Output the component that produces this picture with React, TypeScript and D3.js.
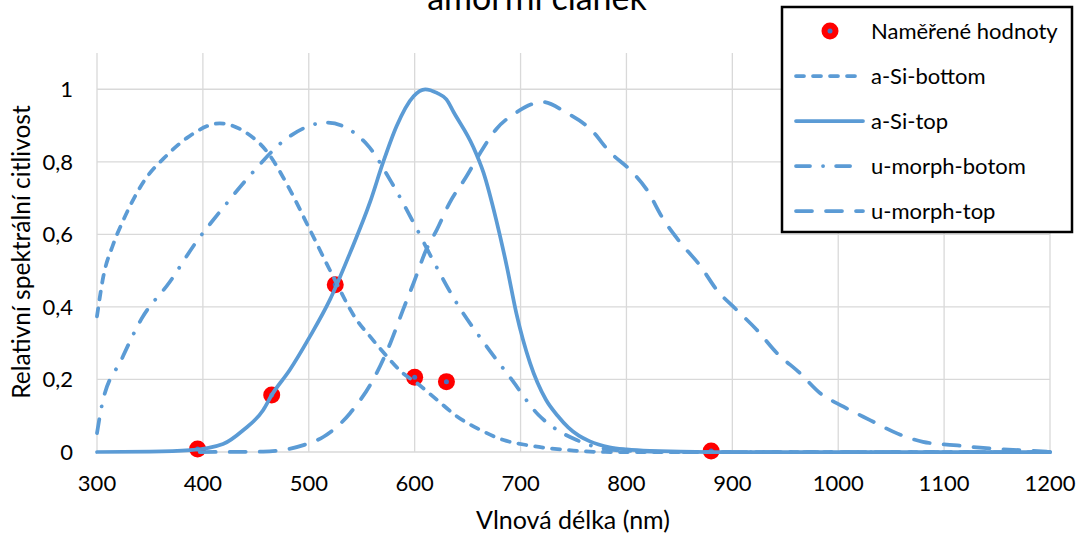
import React from "react";
import * as d3 from "d3";

type Pt = [number, number];

const measured: Pt[] = [[395, 0.008], [465, 0.157], [525, 0.461], [600, 0.206], [630, 0.194], [880, 0.003]];

const aSiBottom: Pt[] = [
  [300, 0.374], [306, 0.484], [315, 0.57], [325, 0.64], [344, 0.745], [366, 0.818], [385, 0.866], [416, 0.906],
  [441, 0.88], [460, 0.83], [482, 0.724], [501, 0.613], [523, 0.484], [545, 0.365], [558, 0.318],
  [571, 0.273], [589, 0.217], [602, 0.19], [621, 0.144], [640, 0.098], [662, 0.061], [684, 0.033],
  [706, 0.019], [728, 0.01], [750, 0.004], [780, 0], [900, 0], [1200, 0],
];

const aSiTop: Pt[] = [
  [300, 0], [350, 0.001], [388, 0.005], [419, 0.022], [438, 0.06], [457, 0.116], [465, 0.157],
  [482, 0.226], [501, 0.318], [520, 0.42], [539, 0.549], [558, 0.69], [570, 0.797], [583, 0.899],
  [599, 0.981], [610, 1.0], [621, 0.99], [630, 0.972], [637, 0.936], [655, 0.843], [665, 0.77],
  [677, 0.64], [687, 0.512], [696, 0.383], [709, 0.245], [724, 0.144], [735, 0.1], [745, 0.068],
  [755, 0.045], [765, 0.03], [784, 0.013], [800, 0.007], [822, 0.003], [880, 0], [1200, 0],
];

const uMorphBottom: Pt[] = [
  [300, 0.052], [305, 0.134], [323, 0.254], [342, 0.367], [369, 0.47], [393, 0.576], [419, 0.673],
  [448, 0.774], [478, 0.862], [517, 0.908], [555, 0.848], [578, 0.744], [599, 0.632], [619, 0.519],
  [640, 0.409], [665, 0.303], [691, 0.202], [717, 0.102], [734, 0.062], [753, 0.033], [770, 0.015],
  [790, 0.005], [850, 0], [1200, 0],
];

const uMorphTop: Pt[] = [
  [397, 0], [457, 0.001], [495, 0.019], [514, 0.042], [539, 0.107], [564, 0.217], [577, 0.3],
  [589, 0.392], [599, 0.466], [611, 0.558], [621, 0.613], [633, 0.687], [649, 0.76], [662, 0.825],
  [677, 0.89], [696, 0.936], [721, 0.965], [743, 0.936], [766, 0.89], [785, 0.825], [803, 0.779],
  [819, 0.724], [835, 0.641], [851, 0.577], [870, 0.512], [885, 0.448], [904, 0.392], [923, 0.337],
  [942, 0.273], [964, 0.217], [983, 0.162], [1005, 0.125], [1030, 0.088], [1055, 0.052],
  [1080, 0.028], [1109, 0.019], [1134, 0.012], [1165, 0.006], [1197, 0.001],
];

const xTicks = [300, 400, 500, 600, 700, 800, 900, 1000, 1100, 1200];
const yTicks = [0, 0.2, 0.4, 0.6, 0.8, 1];

const seriesNames = ["Naměřené hodnoty", "a-Si-bottom", "a-Si-top", "u-morph-botom", "u-morph-top"];

const W = 1078, H = 536;
const M = { left: 97, right: 1050, top: 53, bottom: 452 };
const BLUE = "#5B9BD5";
const FONT = "Lato, 'Open Sans', sans-serif";

export default function App() {
  const x = d3.scaleLinear().domain([300, 1200]).range([M.left, M.right]);
  const y = d3.scaleLinear().domain([0, 1.1]).range([M.bottom, M.top]);
  const line = d3.line<Pt>().x((d) => x(d[0])).y((d) => y(d[1])).curve(d3.curveMonotoneX);
  const fmt = (v: number) => String(v).replace(".", ",");

  const lines = [
    { data: aSiBottom, dash: "8,9" },
    { data: aSiTop, dash: "" },
    { data: uMorphBottom, dash: "14,13,0.1,13" },
    { data: uMorphTop, dash: "16,14" },
  ];

  const legX = 782, legY = 7, legW = 290, legH = 225;
  const rowY = [31, 76, 121, 166, 211];

  return (
    <svg width={W} height={H} style={{ position: "absolute", left: 0, top: 0, background: "#fff" }} fontFamily={FONT}>
      <rect x={0} y={0} width={W} height={H} fill="#fff" />
      {/* gridlines */}
      {yTicks.filter((t) => t > 0).map((t) => (
        <line key={"gy" + t} x1={M.left} x2={M.right} y1={y(t)} y2={y(t)} stroke="#D9D9D9" strokeWidth={1.3} />
      ))}
      {xTicks.filter((t) => t > 300).map((t) => (
        <line key={"gx" + t} x1={x(t)} x2={x(t)} y1={M.top} y2={M.bottom} stroke="#D9D9D9" strokeWidth={1.3} />
      ))}
      <line x1={M.left} x2={M.left} y1={M.top} y2={M.bottom} stroke="#D9D9D9" strokeWidth={1.3} />
      <line x1={M.left} x2={M.right} y1={M.bottom} y2={M.bottom} stroke="#D9D9D9" strokeWidth={1.3} />

      {/* tick labels */}
      {yTicks.map((t) => (
        <text key={"ty" + t} x={73} y={y(t)} dy="0.35em" textAnchor="end" fontSize={22} fill="#000">{fmt(t)}</text>
      ))}
      {xTicks.map((t) => (
        <text key={"tx" + t} x={x(t)} y={491} textAnchor="middle" fontSize={22} fill="#000">{t}</text>
      ))}

      {/* axis titles */}
      <text x={573} y={529} textAnchor="middle" fontSize={25} fill="#000">Vlnová délka (nm)</text>
      <text transform={`translate(30,${252}) rotate(-90)`} textAnchor="middle" fontSize={24.5} fill="#000">Relativní spektrální citlivost</text>

      {/* title */}
      <text x={537} y={10} textAnchor="middle" fontSize={34} fill="#000">amorfní článek</text>

      {/* markers */}
      {measured.map((d, i) => (
        <g key={"m" + i}>
          <circle cx={x(d[0])} cy={y(d[1])} r={8.5} fill="#FF0000" />
          <circle cx={x(d[0])} cy={y(d[1])} r={2.5} fill="#4472C4" />
        </g>
      ))}

      {/* lines */}
      {lines.map((s, i) => (
        <path key={"l" + i} d={line(s.data) || ""} fill="none" stroke={BLUE} strokeWidth={3.75}
          strokeDasharray={s.dash || undefined} strokeLinecap="round" strokeLinejoin="round" />
      ))}

      {/* legend */}
      <rect x={legX} y={legY} width={legW} height={legH} fill="#fff" stroke="#000" strokeWidth={2.5} />
      <circle cx={830} cy={rowY[0]} r={8.5} fill="#FF0000" />
      <circle cx={830} cy={rowY[0]} r={2.5} fill="#4472C4" />
      {lines.map((s, i) => (
        <line key={"ll" + i} x1={796} x2={863} y1={rowY[i + 1]} y2={rowY[i + 1]} stroke={BLUE} strokeWidth={3.75}
          strokeDasharray={s.dash || undefined} strokeLinecap="round" />
      ))}
      {seriesNames.map((n, i) => (
        <text key={"lt" + i} x={871} y={rowY[i]} dy="0.35em" fontSize={22} fill="#000">{n}</text>
      ))}
    </svg>
  );
}
